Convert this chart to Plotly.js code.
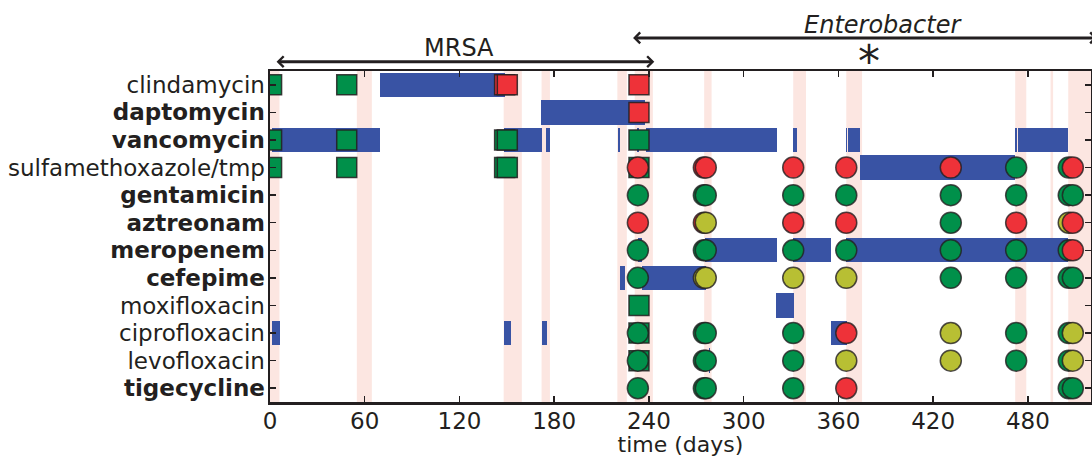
<!DOCTYPE html>
<html>
<head>
<meta charset="utf-8">
<script src="https://cdn.plot.ly/plotly-3.0.1.min.js"></script>
<style>html,body{margin:0;padding:0;background:#fff;}#chart{width:1092px;height:457px;}</style>
</head>
<body>
<div id="chart"></div>
<script>
// ---- categories ----
const drugs = ['clindamycin','daptomycin','vancomycin','sulfamethoxazole/tmp','gentamicin','aztreonam','meropenem','cefepime','moxifloxacin','ciprofloxacin','levofloxacin','tigecycline'];
const boldDrug = [false,true,true,false,true,true,true,true,false,false,false,true];
const xTicks = [0,60,120,180,240,300,360,420,480];

// ---- hospital stays (pink bands), days ----
const stayStart = [0, 55, 148, 172, 220, 231, 275, 331.4, 365, 472, 494.4, 505.6];
const stayEnd   = [6, 64.5, 159.5, 177.3, 226, 242.5, 279.7, 339.5, 375, 479, 496, 520];

// ---- antibiotic therapy periods (blue bars) ----
const therapyDrug  = [0, 1, 2, 2, 2, 2, 2, 2, 2, 2, 2, 2, 3, 6, 6, 6, 6, 7, 7, 8, 9, 9, 9, 9, 10];
const therapyStart = [69.7, 171.6, 1, 148.2, 174.8, 220.4, 232.4, 238.1, 331.2, 364.8, 365.8, 471.8, 373.7, 233, 275.5, 331.2, 364.8, 221.7, 235.6, 320.5, 1, 148.2, 172.3, 355.3, 278];
const therapyEnd   = [148.8, 237.5, 69.7, 172.1, 177.3, 221.7, 233.7, 321.1, 333.8, 365.3, 373.7, 473.3, 471.8, 235.5, 321.1, 355.3, 505.6, 224.8, 276.1, 331.8, 6.3, 152.6, 175.4, 365.4, 278.9];
// second vancomycin late course
const therapyDrug2  = [2];
const therapyStart2 = [474];
const therapyEnd2   = [505.6];

// ---- MRSA cultures (squares): result per drug, '' = not tested ----
const mrsaDays = [1, 48.6, 148.6, 150.3, 233.7];
const mrsa1 = ['S','','S','S','','','','','','','',''];
const mrsa2 = ['S','','S','S','','','','','','','',''];
const mrsa3 = ['R','','S','S','','','','','','','',''];
const mrsa4 = ['R','','S','S','','','','','','','',''];
const mrsa5 = ['R','R','S','S','','','','','S','S','S',''];
const mrsaResults = [mrsa1, mrsa2, mrsa3, mrsa4, mrsa5];

// ---- Enterobacter cultures (circles) ----
const entDays = [233, 274.8, 276, 331.4, 365, 431.2, 472.6, 505.9, 508.5];
const ent1 = ['','','','R','S','R','S','S','','S','S','S'];
const ent2 = ['','','','R','S','R','S','I','','S','S','S'];
const ent3 = ['','','','R','S','I','S','I','','S','S','S'];
const ent4 = ['','','','R','S','R','S','I','','S','S','S'];
const ent5 = ['','','','R','S','R','S','I','','R','I','R'];
const ent6 = ['','','','R','S','S','S','S','','I','I',''];
const ent7 = ['','','','S','S','R','S','S','','S','S',''];
const ent8 = ['','','','S','S','I','S','S','','S','S','S'];
const ent9 = ['','','','R','S','R','R','S','','I','I','S'];
const entResults = [ent1, ent2, ent3, ent4, ent5, ent6, ent7, ent8, ent9];

// ---- styles ----
const resultColor = {S:'#00904a', R:'#ee3239', I:'#b8bf33'};
const ink = '#231f20';

function flatten(days, results){
  const xs=[], ys=[], cs=[];
  results.forEach((r,k)=>{ r.forEach((v,d)=>{ if(v){ xs.push(days[k]); ys.push(d); cs.push(resultColor[v]); } }); });
  return {xs, ys, cs};
}
const sq = flatten(mrsaDays, mrsaResults);
const ci = flatten(entDays, entResults);

const allDrug = therapyDrug.concat(therapyDrug2);
const allStart = therapyStart.concat(therapyStart2);
const allEnd = therapyEnd.concat(therapyEnd2);

const traces = [
  {type:'bar', orientation:'h', y:allDrug, base:allStart, x:allEnd.map((e,i)=>e-allStart[i]),
   width:0.88, marker:{color:'#3953a4', line:{width:0}}, hoverinfo:'skip'},
  {type:'scatter', mode:'markers', x:sq.xs, y:sq.ys,
   marker:{symbol:'square', size:20, color:sq.cs, line:{color:'rgba(35,31,32,0.85)', width:1.5}}, hoverinfo:'skip'},
  {type:'scatter', mode:'markers', x:ci.xs, y:ci.ys,
   marker:{symbol:'circle', size:21, color:ci.cs, line:{color:'rgba(35,31,32,0.8)', width:1.5}}, hoverinfo:'skip'}
];

const shapes = stayStart.map((s,i)=>({type:'rect', xref:'x', yref:'paper', x0:s, x1:stayEnd[i], y0:0, y1:1,
  fillcolor:'#fce6e1', line:{width:0}, layer:'below'}));

const arrowBase = {text:'', showarrow:true, arrowcolor:ink, arrowwidth:3, arrowhead:4, startarrowhead:4,
  arrowsize:0.7, startarrowsize:0.7, arrowside:'end+start', standoff:0, startstandoff:0};

const annotations = [
  Object.assign({}, arrowBase, {xref:'x', axref:'x', yref:'paper', ayref:'paper', x:243.4, ax:3.2, y:1.028, ay:1.028}),
  Object.assign({}, arrowBase, {xref:'x', axref:'x', yref:'paper', ayref:'paper', x:524, ax:229, y:1.1, ay:1.1}),
  {text:'MRSA', xref:'x', yref:'paper', x:120, y:1.069, showarrow:false, font:{size:24, color:ink}, yanchor:'middle'},
  {text:'<i>Enterobacter</i>', xref:'x', yref:'paper', x:388, y:1.139, showarrow:false, font:{size:24, color:ink}, yanchor:'middle'},
  {text:'*', xref:'x', yref:'paper', x:379.4, y:1.03, showarrow:false, font:{size:44, color:ink}, yanchor:'middle'}
];

const axisCommon = {showline:true, linecolor:ink, linewidth:2.5, mirror:'ticks', ticks:'inside', ticklen:6,
  tickwidth:1.5, tickcolor:ink, showgrid:false, zeroline:false, tickfont:{size:23, color:ink}};

const layout = {
  width:1092, height:457, margin:{l:270, r:1, t:71, b:55},
  paper_bgcolor:'#fff', plot_bgcolor:'#fff', showlegend:false,
  font:{family:'DejaVu Sans', size:23, color:ink},
  bargap:0,
  xaxis: Object.assign({}, axisCommon, {range:[0,520], tickvals:xTicks, ticktext:xTicks.map(String),
    ticklabelstandoff:-3,
    title:{text:'time (days)', font:{size:22, color:ink}, standoff:11}}),
  yaxis: Object.assign({}, axisCommon, {range:[11.5,-0.5], tickvals:drugs.map((d,i)=>i),
    ticklabelstandoff:-2,
    ticktext:drugs.map((d,i)=>boldDrug[i] ? '<b>'+d+'</b>' : d)}),
  shapes, annotations
};

Plotly.newPlot('chart', traces, layout, {staticPlot:true, displayModeBar:false});
</script>
</body>
</html>
